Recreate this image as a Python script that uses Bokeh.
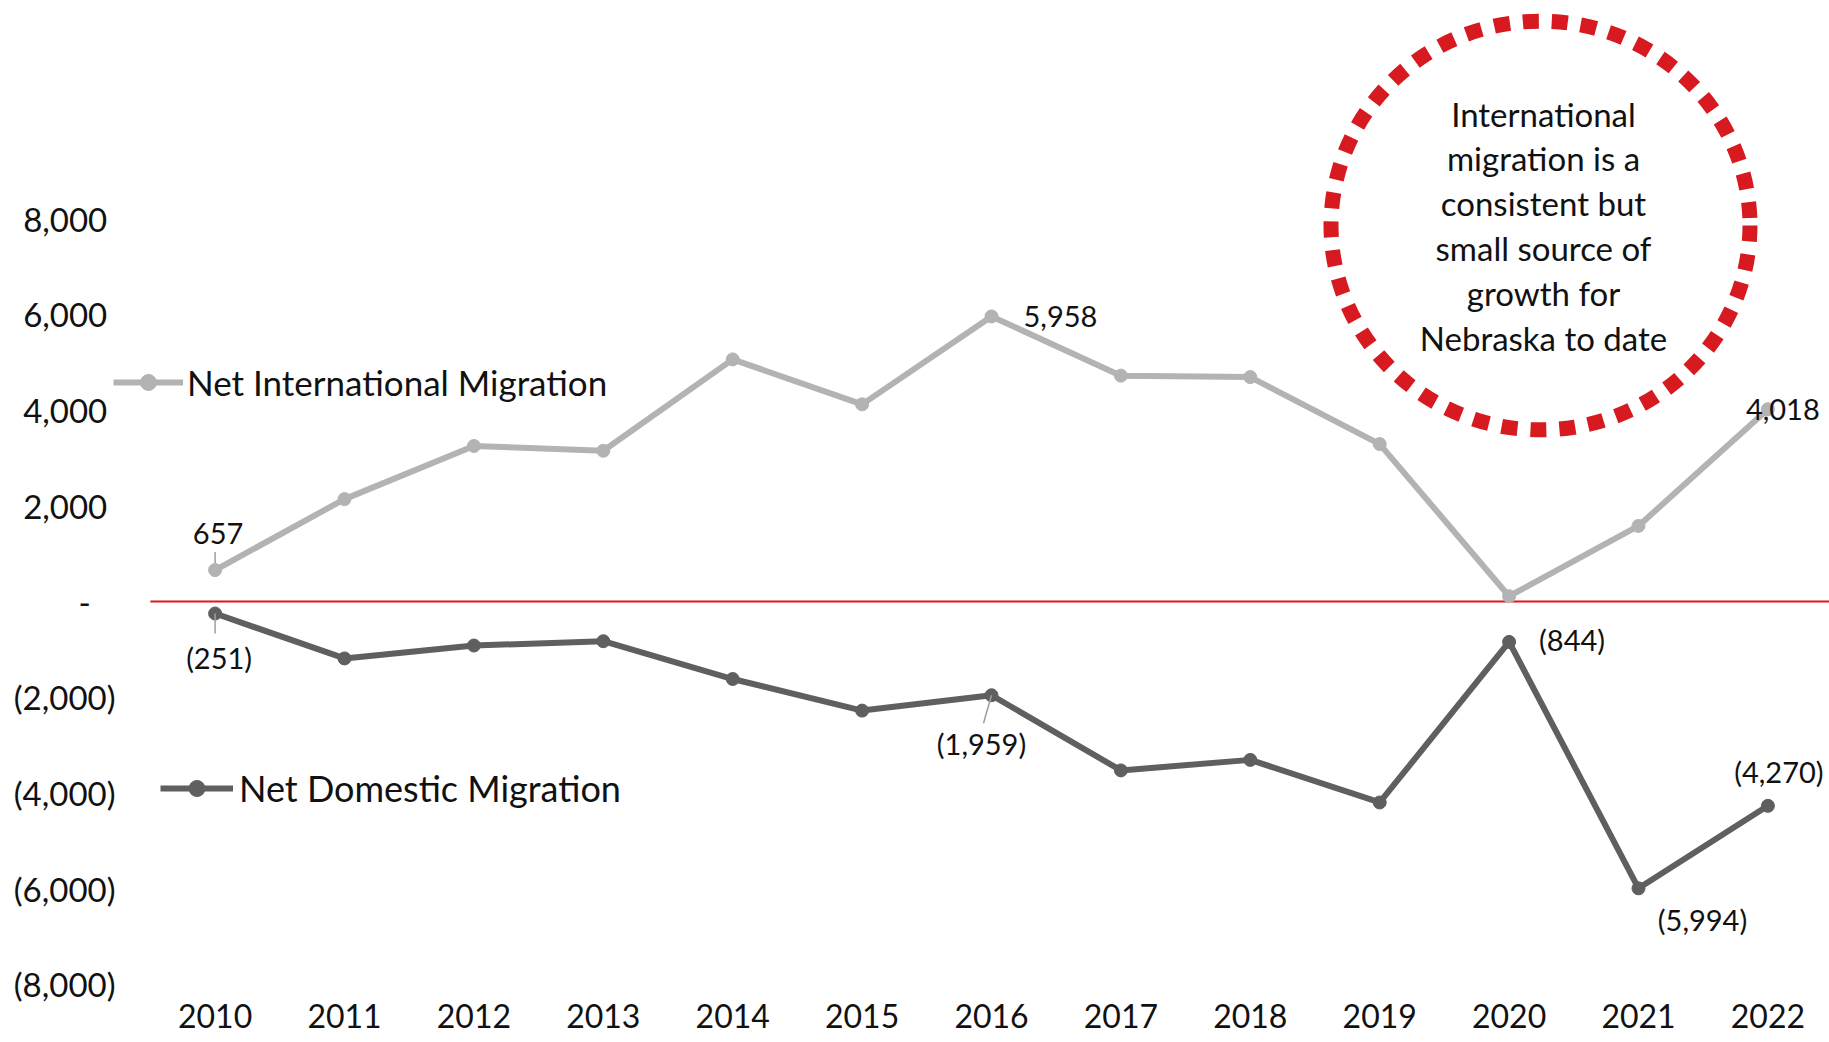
from bokeh.plotting import figure
from bokeh.models import FixedTicker, Range1d, Legend, LegendItem, ColumnDataSource
from bokeh.core.properties import value
from bokeh.embed import file_html
from bokeh.resources import INLINE

# ---------------- data ----------------
years = [2010, 2011, 2012, 2013, 2014, 2015, 2016, 2017, 2018, 2019, 2020, 2021, 2022]
year_labels = ["2010", "2011", "2012", "2013", "2014", "2015", "2016",
               "2017", "2018", "2019", "2020", "2021", "2022"]
net_international = [657, 2140, 3250, 3150, 5060, 4120, 5958, 4720, 4690, 3290, 110, 1580, 4018]
net_domestic = [-251, -1190, -920, -830, -1620, -2280, -1959, -3530, -3310, -4200, -844, -5994, -4270]
y_ticks = [-8000, -6000, -4000, -2000, 0, 2000, 4000, 6000, 8000]
intl_labeled_years = [2010, 2016, 2022]
dom_labeled_years = [2010, 2016, 2020, 2021, 2022]
series_names = ["Net International Migration", "Net Domestic Migration"]
annotation_text = ("International\nmigration is a\nconsistent but\n"
                   "small source of\ngrowth for\nNebraska to date")

# ---------------- styles / layout ----------------
INTL_COLOR = "#b3b3b3"
DOM_COLOR = "#5f5f5f"
RED = "#e0141e"
TEXT = "#111111"
LABEL_FONT = "Lato"

PX_PER_YEAR = 129.4
VAL_PER_PX = 2000 / 95.7

W, H = 1829, 1042
LEFT, BOTTOM = 100, 58
frame_h = H - BOTTOM
x_start = 2010 - (214.6 - LEFT) / PX_PER_YEAR
x_end = x_start + (W - LEFT) / PX_PER_YEAR
y_top = 601 * VAL_PER_PX
y_bottom = y_top - frame_h * VAL_PER_PX


def acct(v):
    if v == 0:
        return "-"
    s = f"{abs(v):,}"
    return f"({s})" if v < 0 else s


def tick_label(v):
    if v == 0:
        return "-\u2002\u2009\u2009"
    s = f"{abs(v):,}"
    return f"({s})" if v < 0 else s + "\u2009\u2009"


p = figure(width=W, height=H, output_backend="svg", toolbar_location=None,
           x_range=Range1d(x_start, x_end), y_range=Range1d(y_bottom, y_top),
           min_border_left=LEFT, min_border_right=0, min_border_top=0,
           min_border_bottom=BOTTOM)
p.outline_line_color = None
p.xgrid.visible = False
p.ygrid.visible = False
p.background_fill_color = "white"
p.border_fill_color = "white"

# axes
p.yaxis.ticker = FixedTicker(ticks=y_ticks)
p.yaxis.major_label_overrides = {t: tick_label(t) for t in y_ticks}
p.yaxis.axis_line_color = None
p.yaxis.major_tick_line_color = None
p.yaxis.minor_tick_line_color = None
p.yaxis.major_tick_out = 0
p.yaxis.major_tick_in = 0
p.yaxis.major_label_standoff = -15
p.yaxis.major_label_text_font = LABEL_FONT
p.yaxis.major_label_text_font_size = "33px"
p.yaxis.major_label_text_color = TEXT

p.xaxis.ticker = FixedTicker(ticks=years)
p.xaxis.major_label_overrides = {y: l for y, l in zip(years, year_labels)}
p.xaxis.axis_line_color = None
p.xaxis.major_tick_line_color = None
p.xaxis.minor_tick_line_color = None
p.xaxis.major_tick_out = 0
p.xaxis.major_tick_in = 0
p.xaxis.major_label_standoff = 19
p.xaxis.major_label_text_font = LABEL_FONT
p.xaxis.major_label_text_font_size = "32px"
p.xaxis.major_label_text_color = TEXT

# zero line, starting half a year before the first category
p.segment(x0=[years[0] - 0.5], y0=[0], x1=[x_end], y1=[0], line_color=RED, line_width=2)

# series
src_i = ColumnDataSource(dict(x=years, y=net_international))
src_d = ColumnDataSource(dict(x=years, y=net_domestic))
li = p.line("x", "y", source=src_i, line_color=INTL_COLOR, line_width=6)
si = p.scatter("x", "y", source=src_i, size=13, fill_color=INTL_COLOR, line_color=INTL_COLOR)
ld = p.line("x", "y", source=src_d, line_color=DOM_COLOR, line_width=6)
sd = p.scatter("x", "y", source=src_d, size=13, fill_color=DOM_COLOR, line_color=DOM_COLOR)

# leader lines
lead_x0, lead_y0, lead_x1, lead_y1 = [], [], [], []
v = net_international[years.index(2010)]
lead_x0.append(2010); lead_y0.append(v + 7 * VAL_PER_PX)
lead_x1.append(2010); lead_y1.append(v + 18 * VAL_PER_PX)
v = net_domestic[years.index(2010)]
lead_x0.append(2010); lead_y0.append(v)
lead_x1.append(2010); lead_y1.append(v - 20 * VAL_PER_PX)
v = net_domestic[years.index(2016)]
lead_x0.append(2016); lead_y0.append(v)
lead_x1.append(2016 - 8 / PX_PER_YEAR); lead_y1.append(v - 28 * VAL_PER_PX)
p.segment(lead_x0, lead_y0, lead_x1, lead_y1, line_color="#9e9e9e", line_width=1.5)

# data labels (offsets are styling, in screen px)
intl_offsets = {2010: (3, -37, "center"), 2016: (32, 0, "left"), 2022: (-22, 0, "left")}
dom_offsets = {2010: (4, 44, "center"), 2016: (-10, 48, "center"), 2020: (30, -2, "left"),
               2021: (64, 31, "center"), 2022: (11, -34, "center")}
lx, ly, lt, ldx, ldy, lal = [], [], [], [], [], []
for yr in intl_labeled_years:
    val = net_international[years.index(yr)]
    dx, dy, al = intl_offsets[yr]
    lx.append(yr); ly.append(val); lt.append(acct(val)); ldx.append(dx); ldy.append(dy); lal.append(al)
for yr in dom_labeled_years:
    val = net_domestic[years.index(yr)]
    dx, dy, al = dom_offsets[yr]
    lx.append(yr); ly.append(val); lt.append(acct(val)); ldx.append(dx); ldy.append(dy); lal.append(al)
lab_src = ColumnDataSource(dict(x=lx, y=ly, text=lt, dx=ldx, dy=ldy, align=lal))
p.text("x", "y", text="text", source=lab_src, x_offset="dx", y_offset="dy",
       text_align="align", text_baseline="middle", text_font=value(LABEL_FONT),
       text_font_size="29px", text_color=TEXT)

# annotation circle
cx = 2010 + (1540 - 214.6) / PX_PER_YEAR
cy = (601 - 225) * VAL_PER_PX
p.ellipse(x=[cx], y=[cy], width=419, height=409, width_units="screen", height_units="screen",
          fill_color=None, line_color="#d71920", line_width=15, line_dash="16 13")
p.text(x=[cx + 3 / PX_PER_YEAR], y=[cy], text=[annotation_text], text_align="center",
       text_baseline="middle", text_font=value(LABEL_FONT), text_font_size="33px",
       text_line_height=1.12, text_color=TEXT)

# legends
leg_i = Legend(items=[LegendItem(label=series_names[0], renderers=[li, si])],
               location=(13, 581), glyph_width=70, glyph_height=40, label_height=40,
               label_standoff=4, padding=0, margin=0, spacing=0,
               border_line_color=None, background_fill_alpha=0,
               label_text_font=LABEL_FONT, label_text_font_size="35px", label_text_color=TEXT)
leg_d = Legend(items=[LegendItem(label=series_names[1], renderers=[ld, sd])],
               location=(60, 174), glyph_width=73, glyph_height=40, label_height=40,
               label_standoff=6, padding=0, margin=0, spacing=0,
               border_line_color=None, background_fill_alpha=0,
               label_text_font=LABEL_FONT, label_text_font_size="36px", label_text_color=TEXT)
p.add_layout(leg_i)
p.add_layout(leg_d)

open("out.html", "w").write(file_html(p, INLINE))
